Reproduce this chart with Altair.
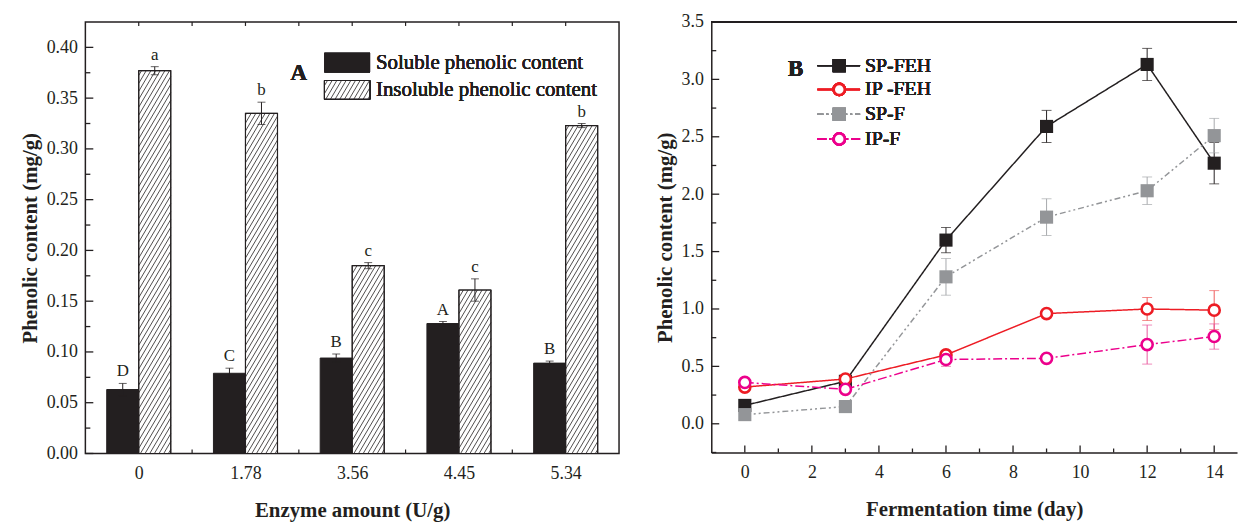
import json
import altair as alt
import pandas as pd

FONT = "Liberation Serif"
INK = "#231f20"

# ---------------- Panel A data ----------------
enzyme_labels = ["0", "1.78", "3.56", "4.45", "5.34"]
soluble = [0.063, 0.079, 0.094, 0.128, 0.089]
soluble_err = [0.006, 0.005, 0.004, 0.002, 0.002]
soluble_letters = ["D", "C", "B", "A", "B"]
insoluble = [0.377, 0.335, 0.185, 0.161, 0.323]
insoluble_err = [0.004, 0.011, 0.003, 0.011, 0.002]
insoluble_letters = ["a", "b", "c", "c", "b"]
bar_legend = ["Soluble phenolic content", "Insoluble phenolic content"]
yA_major = [0.0, 0.05, 0.10, 0.15, 0.20, 0.25, 0.30, 0.35, 0.40]
yA_minor = [0.025, 0.075, 0.125, 0.175, 0.225, 0.275, 0.325, 0.375]
xA_ticks = [0, 0.5, 1, 1.5, 2, 2.5, 3, 3.5, 4]

# ---------------- Panel B data ----------------
days = [0, 3, 6, 9, 12, 14]
series_names = ["SP-FEH", "IP -FEH", "SP-F", "IP-F"]
sp_feh = [0.16, 0.37, 1.60, 2.59, 3.13, 2.27]
sp_feh_err = [0.03, 0.02, 0.11, 0.14, 0.14, 0.18]
ip_feh = [0.32, 0.39, 0.60, 0.96, 1.00, 0.99]
ip_feh_err = [0.02, 0.02, 0.03, 0.02, 0.10, 0.17]
sp_f = [0.08, 0.15, 1.28, 1.80, 2.03, 2.51]
sp_f_err = [0.02, 0.02, 0.16, 0.16, 0.12, 0.15]
ip_f = [0.36, 0.30, 0.56, 0.57, 0.69, 0.76]
ip_f_err = [0.02, 0.03, 0.06, 0.02, 0.17, 0.11]
series_values = [sp_feh, ip_feh, sp_f, ip_f]
series_errs = [sp_feh_err, ip_feh_err, sp_f_err, ip_f_err]
series_colors = [INK, "#ed1c24", "#939598", "#ec008c"]
err_colors = [INK, "#ef5a5a", "#a7a9ac", "#e8559c"]
series_shapes = ["square", "circle", "square", "circle"]
series_dash = [[1, 0], [1, 0], [6, 3, 2, 3, 2, 3], [9, 3, 2, 3]]
xB_major = [0, 2, 4, 6, 8, 10, 12, 14]
xB_minor = [1, 3, 5, 7, 9, 11, 13]
yB_major = [0.0, 0.5, 1.0, 1.5, 2.0, 2.5, 3.0, 3.5]
yB_minor = [-0.25, 0.25, 0.75, 1.25, 1.75, 2.25, 2.75, 3.25]

LABEL_FS = 18
TITLE_FS = 21

# ---------------- Panel A ----------------
WA, HA = 538, 435
XA_DOM = [-0.5, 4.5]
YA_DOM = [0.0, 0.425]
XPX = WA / (XA_DOM[1] - XA_DOM[0])
YPX = HA / (YA_DOM[1] - YA_DOM[0])
BW = 0.3

xsA = alt.Scale(domain=XA_DOM, nice=False, zero=False)
ysA = alt.Scale(domain=YA_DOM, nice=False, zero=False)
axXA = alt.Axis(values=list(range(len(enzyme_labels))),
                labelExpr=json.dumps(enzyme_labels) + "[datum.value]",
                title="Enzyme amount (U/g)", ticks=False, domain=False,
                labelPadding=11, titlePadding=18)
axYA = alt.Axis(values=yA_major, format=".2f", ticks=False,
                title="Phenolic content (mg/g)", domain=False,
                labelPadding=8, titlePadding=6)


def XA(f):
    return alt.X(f, scale=xsA, axis=axXA)


def YA(f):
    return alt.Y(f, scale=ysA, axis=axYA)


def px_to_data(px, py):
    return XA_DOM[0] + px / XPX, YA_DOM[1] - py / YPX


def hatch(x0, x1, y0, y1, slope=1.7, step=8.0):
    W = (x1 - x0) * XPX
    H = (y1 - y0) * YPX
    segs = []
    c = -slope * W + step / 2
    while c < H:
        xa = max(0.0, -c / slope)
        xb = min(W, (H - c) / slope)
        if xb - xa > 0.3:
            segs.append({"x": x0 + xa / XPX, "y": y0 + (c + slope * xa) / YPX,
                         "x2": x0 + xb / XPX, "y2": y0 + (c + slope * xb) / YPX})
        c += step
    return segs


idx = list(range(len(enzyme_labels)))
dsol = pd.DataFrame({"idx": idx, "value": soluble, "err": soluble_err, "letter": soluble_letters})
dsol["x0"] = dsol.idx - BW
dsol["x1"] = dsol.idx
dins = pd.DataFrame({"idx": idx, "value": insoluble, "err": insoluble_err, "letter": insoluble_letters})
dins["x0"] = dins.idx
dins["x1"] = dins.idx + BW
for d in (dsol, dins):
    d["xc"] = (d.x0 + d.x1) / 2
    d["lo"] = d.value - d.err
    d["hi"] = d.value + d.err
    d["zero"] = 0.0

segs = []
for _, r in dins.iterrows():
    segs += hatch(r.x0, r.x1, 0.0, r.value)

# legend boxes (layout in plot pixels)
LX0, LX1 = 241, 287
lb1 = (31, 51)
lb2 = (59, 78)
gx0, gy_top = px_to_data(LX0, lb2[0])
gx1, gy_bot = px_to_data(LX1, lb2[1])
segs += hatch(gx0, gx1, gy_bot, gy_top)
dhatch = pd.DataFrame(segs)

layersA = []
# inward ticks for panel A
dyAmaj = pd.DataFrame({"t": yA_major})
dyAmin = pd.DataFrame({"t": yA_minor})
dxA = pd.DataFrame({"t": xA_ticks})
layersA.append(alt.Chart(dyAmaj).mark_rule(color=INK, strokeWidth=1.3).encode(
    y=YA("t:Q"), x=alt.value(0), x2=alt.value(8)))
layersA.append(alt.Chart(dyAmin).mark_rule(color=INK, strokeWidth=1.3).encode(
    y=YA("t:Q"), x=alt.value(0), x2=alt.value(5)))
layersA.append(alt.Chart(dxA).mark_rule(color=INK, strokeWidth=1.2).encode(
    x=XA("t:Q"), y=alt.value(HA), y2=alt.value(HA - 4)))
layersA.append(alt.Chart(dxA).mark_rule(color=INK, strokeWidth=1.2).encode(
    x=XA("t:Q"), y=alt.value(0), y2=alt.value(4)))

layersA.append(alt.Chart(dsol).mark_bar(color=INK, stroke=INK, strokeWidth=1).encode(
    x=XA("x0:Q"), x2="x1:Q", y=YA("value:Q"), y2="zero:Q"))
layersA.append(alt.Chart(dins).mark_bar(fill="white", stroke=INK, strokeWidth=1).encode(
    x=XA("x0:Q"), x2="x1:Q", y=YA("value:Q"), y2="zero:Q"))
layersA.append(alt.Chart(dhatch).mark_rule(color=INK, strokeWidth=0.8).encode(
    x=XA("x:Q"), x2="x2:Q", y=YA("y:Q"), y2="y2:Q"))
layersA.append(alt.Chart(dins).mark_bar(fill="transparent", stroke=INK, strokeWidth=1.2).encode(
    x=XA("x0:Q"), x2="x1:Q", y=YA("value:Q"), y2="zero:Q"))

for d in (dsol, dins):
    layersA.append(alt.Chart(d).mark_rule(color=INK, strokeWidth=1).encode(
        x=XA("xc:Q"), y=YA("lo:Q"), y2="hi:Q"))
    for f in ("lo", "hi"):
        layersA.append(alt.Chart(d).mark_tick(color=INK, orient="horizontal", size=8, thickness=1).encode(
            x=XA("xc:Q"), y=YA(f + ":Q")))
    layersA.append(alt.Chart(d).mark_text(font=FONT, fontSize=17, color=INK, baseline="bottom", dy=-3).encode(
        x=XA("xc:Q"), y=YA("hi:Q"), text="letter:N"))

layersA += [
    alt.Chart(dsol).mark_rect(color=INK).encode(
        x=alt.value(LX0), x2=alt.value(LX1), y=alt.value(lb1[0]), y2=alt.value(lb1[1])),
    alt.Chart(dsol).mark_rect(fill="transparent", stroke=INK, strokeWidth=1).encode(
        x=alt.value(LX0), x2=alt.value(LX1), y=alt.value(lb2[0]), y2=alt.value(lb2[1])),
    alt.Chart(dsol).mark_text(font=FONT, fontSize=21, fontWeight="normal", color=INK, align="left",
                              baseline="middle").encode(
        x=alt.value(LX1 + 6), y=alt.value((lb1[0] + lb1[1]) / 2), text=alt.value(bar_legend[0])),
    alt.Chart(dsol).mark_text(font=FONT, fontSize=21, fontWeight="normal", color=INK, align="left",
                              baseline="middle").encode(
        x=alt.value(LX1 + 6), y=alt.value((lb2[0] + lb2[1]) / 2), text=alt.value(bar_legend[1])),
    alt.Chart(dsol).mark_text(font=FONT, fontSize=23, fontWeight="bold", color=INK).encode(
        x=alt.value(215), y=alt.value(51), text=alt.value("A")),
]

panelA = alt.layer(*layersA).properties(
    width=WA, height=HA, view=alt.ViewBackground(stroke=INK, strokeWidth=1.5))

# ---------------- Panel B ----------------
WB, HB = 530, 434
XB_DOM = [-1.0, -1.0 + WB / 33.8]
YB_DOM = [-0.25, 3.5]
xsB = alt.Scale(domain=XB_DOM, nice=False, zero=False)
ysB = alt.Scale(domain=YB_DOM, nice=False, zero=False)
axXB = alt.Axis(values=xB_major, format="d", title="Fermentation time (day)", ticks=False,
                domainWidth=1.5, labelPadding=11, titlePadding=18)
axYB = alt.Axis(values=yB_major, format=".1f", title="Phenolic content (mg/g)", ticks=False,
                domainWidth=1.5, labelPadding=8, titlePadding=6)


def XB(f):
    return alt.X(f, scale=xsB, axis=axXB)


def YB(f):
    return alt.Y(f, scale=ysB, axis=axYB)


layersB = []
dxmaj = pd.DataFrame({"t": xB_major})
dxmin = pd.DataFrame({"t": xB_minor})
dymaj = pd.DataFrame({"t": yB_major})
dymin = pd.DataFrame({"t": yB_minor})
layersB.append(alt.Chart(dxmaj).mark_rule(color=INK, strokeWidth=1.3).encode(
    x=XB("t:Q"), y=alt.value(HB), y2=alt.value(HB - 7)))
layersB.append(alt.Chart(dxmin).mark_rule(color=INK, strokeWidth=1.3).encode(
    x=XB("t:Q"), y=alt.value(HB), y2=alt.value(HB - 4)))
layersB.append(alt.Chart(dymaj).mark_rule(color=INK, strokeWidth=1.3).encode(
    y=YB("t:Q"), x=alt.value(0), x2=alt.value(8)))
layersB.append(alt.Chart(dymin).mark_rule(color=INK, strokeWidth=1.3).encode(
    y=YB("t:Q"), x=alt.value(0), x2=alt.value(5)))
layersB.append(alt.Chart(dxmaj).mark_rule(color=INK, strokeWidth=1.5).encode(
    x=alt.value(0), x2=alt.value(WB), y=alt.value(0)))

dfs = []
for name, vals, errs in zip(series_names, series_values, series_errs):
    d = pd.DataFrame({"day": days, "value": vals, "err": errs})
    d["lo"] = d.value - d.err
    d["hi"] = d.value + d.err
    dfs.append(d)

for d, c, dash in zip(dfs, series_colors, series_dash):
    layersB.append(alt.Chart(d).mark_line(color=c, strokeWidth=1.5, strokeDash=dash).encode(
        x=XB("day:Q"), y=YB("value:Q")))
for d, ec in zip(dfs, err_colors):
    layersB.append(alt.Chart(d).mark_rule(color=ec, strokeWidth=1).encode(
        x=XB("day:Q"), y=YB("lo:Q"), y2="hi:Q"))
    for f in ("lo", "hi"):
        layersB.append(alt.Chart(d).mark_tick(color=ec, orient="horizontal", size=10, thickness=1).encode(
            x=XB("day:Q"), y=YB(f + ":Q")))


def marker(c, shape):
    if shape == "square":
        return dict(shape="square", filled=True, color=c, size=175, opacity=1)
    return dict(shape="circle", filled=True, fill="white", stroke=c, strokeWidth=2.6, size=125, opacity=1)


for d, c, s in zip(dfs, series_colors, series_shapes):
    layersB.append(alt.Chart(d).mark_point(**marker(c, s)).encode(x=XB("day:Q"), y=YB("value:Q")))

# legend for panel B (plot pixel layout)
leg_rows = [44, 68, 93, 118]
for name, c, s, dash, ly in zip(series_names, series_colors, series_shapes, series_dash, leg_rows):
    layersB.append(alt.Chart(dxmaj).mark_rule(color=c, strokeWidth=1.5, strokeDash=dash).encode(
        x=alt.value(107), x2=alt.value(150), y=alt.value(ly)))
    layersB.append(alt.Chart(dxmaj).mark_point(**marker(c, s)).encode(
        x=alt.value(129), y=alt.value(ly)))
    layersB.append(alt.Chart(dxmaj).mark_text(font=FONT, fontSize=20, fontWeight="normal", color=INK,
                                                align="left", baseline="middle").encode(
        x=alt.value(155), y=alt.value(ly), text=alt.value(name)))
layersB.append(alt.Chart(dxmaj).mark_text(font=FONT, fontSize=23, fontWeight="bold", color=INK).encode(
    x=alt.value(85), y=alt.value(47), text=alt.value("B")))

panelB = alt.layer(*layersB).properties(
    width=WB, height=HB, view=alt.ViewBackground(stroke="transparent"))

chart = alt.hconcat(panelA, panelB, spacing=34).properties(
    padding={"left": 10, "top": 2, "right": 0, "bottom": 0}
).configure_axis(
    labelFont=FONT, titleFont=FONT, labelFontSize=LABEL_FS, titleFontSize=TITLE_FS,
    titleFontWeight="bold", labelColor=INK, titleColor=INK, domainColor=INK,
    tickColor=INK, grid=False
).configure_view(stroke=INK)

chart.save("out.html", embed_options={"renderer": "svg", "actions": False})
